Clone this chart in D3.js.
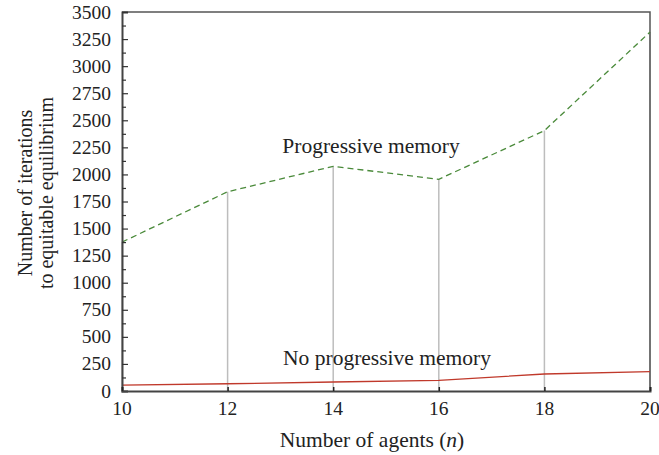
<!DOCTYPE html>
<html>
<head>
<meta charset="utf-8">
<script src="https://cdn.jsdelivr.net/npm/d3@7"></script>
<style>
  html, body { margin: 0; padding: 0; background: #fff; }
  svg text { font-family: "Liberation Serif", "DejaVu Serif", serif; fill: #222; }
</style>
</head>
<body>
<svg id="chart" width="659" height="455"></svg>
<script>
const agents = [10, 12, 14, 16, 18, 20];
const progressiveMemory = [1375, 1840, 2075, 1955, 2405, 3315];
const noProgressiveMemory = [55, 67, 83, 99, 157, 178];
const xTicks = [10, 12, 14, 16, 18, 20];
const yTicks = [0, 250, 500, 750, 1000, 1250, 1500, 1750, 2000, 2250, 2500, 2750, 3000, 3250, 3500];
const yMinorTicks = d3.range(125, 3500, 250);
const seriesLabels = ["Progressive memory", "No progressive memory"];
const xTitle = "Number of agents (";
const yTitleLines = ["Number of iterations", "to equitable equilibrium"];

const svg = d3.select("#chart");
const m = {left: 122, right: 9, top: 12, bottom: 64};
const W = 659, H = 455;
const x = d3.scaleLinear().domain([10, 20]).range([m.left, W - m.right]);
const y = d3.scaleLinear().domain([0, 3500]).range([H - m.bottom, m.top]);
const tickFont = 19.5, labelFont = 21.5, yTitleFont = 20;

// drop lines
svg.append("g").selectAll("line").data(agents.map((a, i) => [a, progressiveMemory[i]]))
  .join("line")
  .attr("x1", d => x(d[0])).attr("x2", d => x(d[0]))
  .attr("y1", d => y(d[1])).attr("y2", y(0))
  .attr("stroke", "#bdbdbd").attr("stroke-width", 1.5);

// frame (top & right)
svg.append("path")
  .attr("d", `M${x(10)},${y(3500)}H${x(20)}V${y(0)}`)
  .attr("fill", "none").attr("stroke", "#555").attr("stroke-width", 1.5);

// lines
const lineGen = vals => d3.line().x((d, i) => x(agents[i])).y(d => y(d))(vals);
svg.append("path").attr("d", lineGen(noProgressiveMemory))
  .attr("fill", "none").attr("stroke", "#c0392b").attr("stroke-width", 1.3);
svg.append("path").attr("d", lineGen(progressiveMemory))
  .attr("fill", "none").attr("stroke", "#4a8a3a").attr("stroke-width", 1.3)
  .attr("stroke-dasharray", "6,4");

// y axis
const yAxis = svg.append("g").attr("transform", `translate(${x(10)},0)`)
  .call(d3.axisRight(y).tickValues(yTicks).tickSize(6).tickFormat(""));
yAxis.select(".domain").attr("stroke", "#444").attr("stroke-width", 2);
yAxis.selectAll(".tick line").attr("stroke", "#333").attr("stroke-width", 1.2);
svg.append("g").attr("transform", `translate(${x(10)},0)`)
  .call(d3.axisRight(y).tickValues(yMinorTicks).tickSize(4).tickFormat(""))
  .call(g => g.select(".domain").remove())
  .selectAll(".tick line").attr("stroke", "#333").attr("stroke-width", 1.2);
svg.append("g").selectAll("text").data(yTicks).join("text")
  .attr("x", x(10) - 11).attr("y", d => y(d) + 6.5)
  .attr("text-anchor", "end").attr("font-size", tickFont).text(d => d);

// x axis
const xAxis = svg.append("g").attr("transform", `translate(0,${y(0)})`)
  .call(d3.axisTop(x).tickValues(xTicks).tickSize(4).tickFormat(""));
xAxis.select(".domain").attr("stroke", "#444").attr("stroke-width", 2);
xAxis.selectAll(".tick line").attr("stroke", "#222").attr("stroke-width", 1.5);
svg.append("g").selectAll("text").data(xTicks).join("text")
  .attr("x", d => x(d)).attr("y", y(0) + 24)
  .attr("text-anchor", "middle").attr("font-size", tickFont).text(d => d);

// series labels
svg.append("text").attr("x", 371).attr("y", 153).attr("text-anchor", "middle")
  .attr("font-size", labelFont).text(seriesLabels[0]);
svg.append("text").attr("x", 387).attr("y", 365).attr("text-anchor", "middle")
  .attr("font-size", labelFont).text(seriesLabels[1]);

// axis titles
const xt = svg.append("text").attr("x", 372).attr("y", 447).attr("text-anchor", "middle")
  .attr("font-size", labelFont);
xt.append("tspan").text(xTitle);
xt.append("tspan").attr("font-style", "italic").text("n");
xt.append("tspan").text(")");

const yt = svg.append("text").attr("transform", "translate(0,193) rotate(-90)")
  .attr("text-anchor", "middle").attr("font-size", yTitleFont);
yt.append("tspan").attr("x", 0).attr("y", 32).text(yTitleLines[0]);
yt.append("tspan").attr("x", 0).attr("y", 53).text(yTitleLines[1]);
</script>
</body>
</html>
